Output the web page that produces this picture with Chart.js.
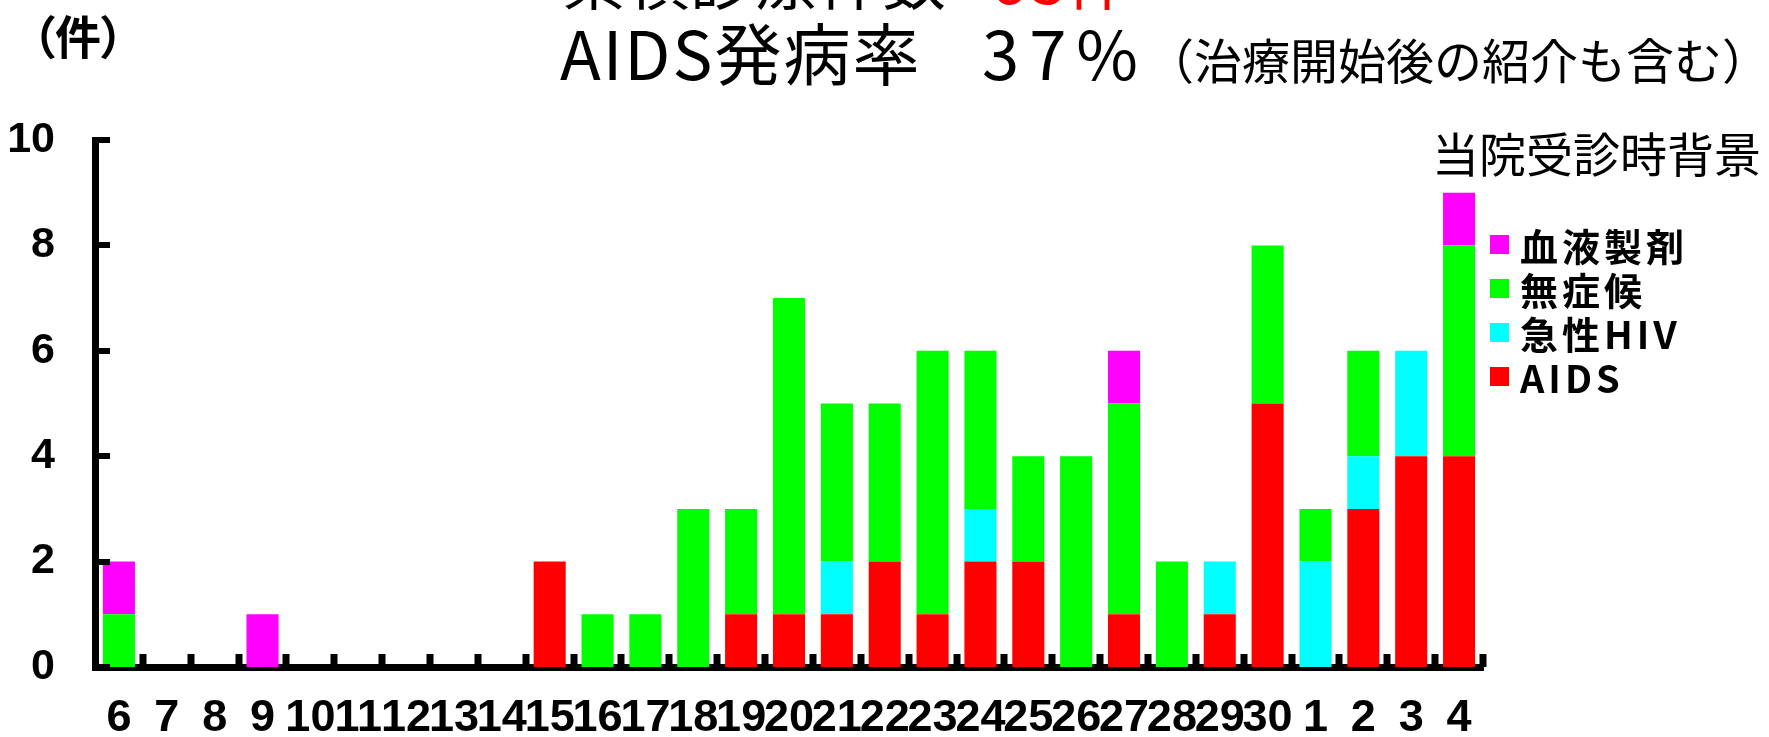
<!DOCTYPE html>
<html lang="ja">
<head>
    <meta charset="UTF-8">
    <title>当院受診時背景</title>
    <script src="https://cdn.jsdelivr.net/npm/chart.js"></script>
    <style>
        html, body {
            margin: 0;
            padding: 0;
            background: #fff;
        }
        #wrap {
            position: relative;
            width: 1769px;
            height: 737px;
            overflow: hidden;
        }
        #chart {
            position: absolute;
            left: 0;
            top: 0;
        }
        .txt {
            position: absolute;
            white-space: nowrap;
            font-family: "Noto Sans CJK JP", sans-serif;
            color: #000;
            line-height: 1;
        }
        .big {
            font-size: 67px;
            letter-spacing: 2px;
        }
        .note {
            font-size: 48px;
        }
        .red {
            color: #ff0000;
        }
        #legend {
            position: absolute;
            left: 1490px;
            top: 222px;
        }
        .legend-item {
            display: flex;
            align-items: center;
            height: 44px;
            font-family: "Noto Sans CJK JP", sans-serif;
            font-weight: 700;
            font-size: 38px;
            letter-spacing: 4px;
        }
        .legend-box {
            width: 19px;
            height: 19px;
            margin-right: 11px;
        }
    </style>
</head>
<body>
<div id="wrap">
    <canvas id="chart" width="1769" height="737"></canvas>

    <!-- titles (first line is cut off at the top of the slide) -->
    <div class="txt" style="left:562px; top:-56px; font-size:64px;">累積診療件数</div>
    <div class="txt red" style="left:995px; top:-56px; font-size:64px;">93件</div>
    <div class="txt big" style="left:560px; top:17px;">AIDS発病率</div>
    <div class="txt big" style="left:982px; top:17px; letter-spacing:10px;">37%</div>
    <div class="txt note" style="left:1146px; top:34px;">（治療開始後の紹介も含む）</div>
    <div class="txt" style="left:32px; top:11px; font-size:46px; font-weight:700; font-feature-settings:'palt';">（件）</div>

    <!-- legend -->
    <div class="txt" style="left:1432px; top:128px; font-size:47px;">当院受診時背景</div>
    <div id="legend"></div>
</div>

<script>
    // fiscal years (Heisei 6 ... 30, then Reiwa 1 ... 4)
    const years = ['6', '7', '8', '9', '10', '11', '12', '13', '14', '15', '16', '17', '18', '19', '20',
        '21', '22', '23', '24', '25', '26', '27', '28', '29', '30', '1', '2', '3', '4'];

    const aids      = [0, 0, 0, 0, 0, 0, 0, 0, 0, 2, 0, 0, 0, 1, 1, 1, 2, 1, 2, 2, 0, 1, 0, 1, 5, 0, 3, 4, 4];
    const acuteHiv  = [0, 0, 0, 0, 0, 0, 0, 0, 0, 0, 0, 0, 0, 0, 0, 1, 0, 0, 1, 0, 0, 0, 0, 1, 0, 2, 1, 2, 0];
    const noSymptom = [1, 0, 0, 0, 0, 0, 0, 0, 0, 0, 1, 1, 3, 2, 6, 3, 3, 5, 3, 2, 4, 4, 2, 0, 3, 1, 2, 0, 4];
    const blood     = [1, 0, 0, 1, 0, 0, 0, 0, 0, 0, 0, 0, 0, 0, 0, 0, 0, 0, 0, 0, 0, 1, 0, 0, 0, 0, 0, 0, 1];

    const yTicks = [0, 2, 4, 6, 8, 10];

    const series = [
        { name: 'AIDS', data: aids, color: '#ff0000' },
        { name: '急性HIV', data: acuteHiv, color: '#00ffff' },
        { name: '無症候', data: noSymptom, color: '#00ff00' },
        { name: '血液製剤', data: blood, color: '#ff00ff' }
    ];

    // legend, top item = top of the stack
    const legendEl = document.getElementById('legend');
    series.slice().reverse().forEach(s => {
        const row = document.createElement('div');
        row.className = 'legend-item';
        const box = document.createElement('div');
        box.className = 'legend-box';
        box.style.background = s.color;
        const label = document.createElement('span');
        label.textContent = s.name;
        row.appendChild(box);
        row.appendChild(label);
        legendEl.appendChild(row);
    });

    // short tick marks pointing into the plot area
    const innerTicks = {
        id: 'innerTicks',
        afterDatasetsDraw(chart) {
            const ctx = chart.ctx;
            const area = chart.chartArea;
            const x = chart.scales.x;
            const y = chart.scales.y;
            ctx.save();
            ctx.strokeStyle = '#000';
            ctx.lineWidth = 6;
            ctx.beginPath();
            yTicks.forEach(v => {
                const py = Math.round(y.getPixelForValue(v));
                ctx.moveTo(area.left, py);
                ctx.lineTo(area.left + 15, py);
            });
            ctx.stroke();
            ctx.lineWidth = 7;
            ctx.beginPath();
            for (let i = 1; i <= years.length; i++) {
                const px = i === years.length
                    ? area.right
                    : (x.getPixelForValue(i - 1) + x.getPixelForValue(i)) / 2;
                ctx.moveTo(Math.round(px), area.bottom);
                ctx.lineTo(Math.round(px), area.bottom - 13);
            }
            ctx.stroke();
            ctx.restore();
        }
    };

    const ctx = document.getElementById('chart').getContext('2d');
    const chart = new Chart(ctx, {
        type: 'bar',
        data: {
            labels: years,
            datasets: series.map(s => ({
                label: s.name,
                data: s.data,
                backgroundColor: s.color,
                borderWidth: 0,
                barPercentage: 0.67,
                categoryPercentage: 1.0
            }))
        },
        options: {
            responsive: false,
            devicePixelRatio: 1,
            animation: false,
            layout: {
                padding: { left: 0, right: 286, top: 140, bottom: 0 }
            },
            plugins: {
                legend: { display: false },
                tooltip: { enabled: false }
            },
            scales: {
                x: {
                    stacked: true,
                    offset: true,
                    afterFit: s => { s.height = 70; },
                    grid: { display: false, drawTicks: false },
                    border: { display: true, color: '#000', width: 7 },
                    ticks: {
                        autoSkip: false,
                        maxRotation: 0,
                        padding: 25,
                        color: '#000',
                        font: { family: '"Liberation Sans Narrow", "Liberation Sans", Arial, sans-serif', size: 45, weight: 'bold' }
                    }
                },
                y: {
                    stacked: true,
                    min: 0,
                    max: 10,
                    afterFit: s => { s.width = 95; },
                    afterBuildTicks: s => { s.ticks = yTicks.map(v => ({ value: v })); },
                    grid: { display: false, drawTicks: false },
                    border: { display: true, color: '#000', width: 7 },
                    ticks: {
                        padding: 40,
                        color: '#000',
                        font: { family: '"Liberation Sans", Arial, sans-serif', size: 43, weight: 'bold' }
                    }
                }
            }
        },
        plugins: [innerTicks]
    });
</script>
</body>
</html>
